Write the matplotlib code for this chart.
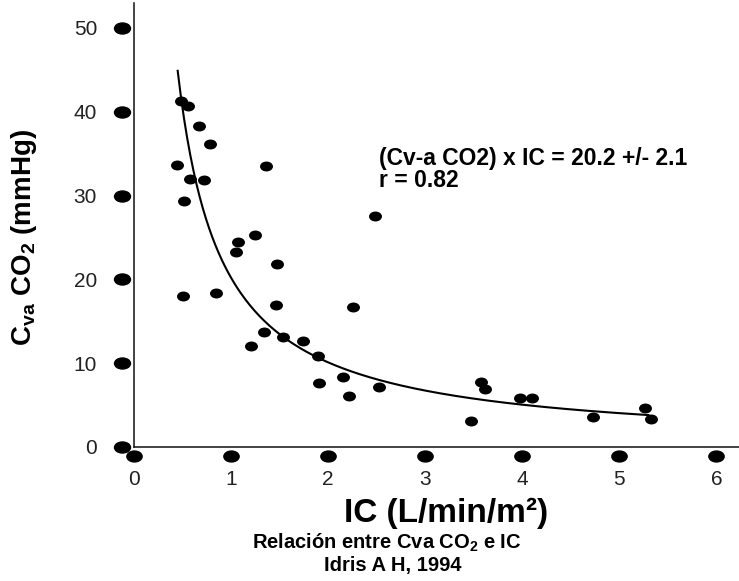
import numpy as np
import matplotlib
matplotlib.use('Agg')
import matplotlib.pyplot as plt
from matplotlib.path import Path
from matplotlib.transforms import blended_transform_factory, ScaledTranslation

plt.rcParams['font.family'] = ['Liberation Sans', 'DejaVu Sans']
plt.rcParams['mathtext.fontset'] = 'custom'
plt.rcParams['mathtext.rm'] = 'Liberation Sans:bold'
plt.rcParams['mathtext.it'] = 'Liberation Sans:bold'
plt.rcParams['mathtext.bf'] = 'Liberation Sans:bold'

# datos (IC en L/min/m2, Cva CO2 en mmHg)
ic = [0.48, 0.56, 0.67, 0.78, 0.44, 1.36, 0.58, 0.72, 0.52, 2.48,
      1.25, 1.07, 1.05, 1.47, 0.50, 0.84, 1.46, 2.26, 1.34, 1.54,
      1.74, 1.21, 1.90, 1.91, 2.15, 2.22, 2.52, 3.57, 3.62, 3.47,
      3.98, 4.10, 4.73, 5.26, 5.33]
cva = [41.3, 40.7, 38.3, 36.2, 33.7, 33.5, 32.0, 31.9, 29.3, 27.6,
       25.3, 24.5, 23.3, 21.8, 18.0, 18.4, 17.0, 16.7, 13.7, 13.1,
       12.6, 12.1, 10.9, 7.6, 8.3, 6.1, 7.1, 7.7, 6.9, 3.1,
       5.9, 5.9, 3.6, 4.6, 3.3]

# curva de ajuste: (Cv-a CO2) x IC = 20.2
k_ajuste = 20.2
ic_curva_min = 0.45
ic_curva_max = 5.3

xticks = [0, 1, 2, 3, 4, 5, 6]
yticks = [0, 10, 20, 30, 40, 50]


def elipse(aspecto):
    c = Path.unit_circle()
    return Path(c.vertices * [aspecto, 1.0], c.codes)


fig = plt.figure(figsize=(7.39, 5.81), dpi=100)
ax = fig.add_axes([134/739, 1-447/581, 1-134/739, 444/581])
ax.set_xlim(0.041, 6.233)
ax.set_ylim(0, 52.98)

# curva
xc = np.linspace(ic_curva_min, ic_curva_max, 300)
ax.plot(xc, k_ajuste / xc, color='black', lw=1.5)

# puntos
ax.plot(ic, cva, ls='none', marker=elipse(1.35), ms=8.3, color='black')

# ejes
for s in ['top', 'right']:
    ax.spines[s].set_visible(False)
for s in ['left', 'bottom']:
    ax.spines[s].set_linewidth(1.1)
    ax.spines[s].set_color('#111111')

ax.set_xticks(xticks)
ax.set_yticks(yticks)
ax.tick_params(length=0, labelsize=15, colors='#222222')
ax.tick_params(axis='y', pad=26.6)
ax.tick_params(axis='x', pad=16.5)

# marcas de los ejes como puntos grandes
ytr = blended_transform_factory(ax.transAxes, ax.transData) + \
    ScaledTranslation(-0.12, 0, fig.dpi_scale_trans)
xtr = blended_transform_factory(ax.transData, ax.transAxes) + \
    ScaledTranslation(0, -0.09, fig.dpi_scale_trans)
ax.plot(np.zeros(len(yticks)), yticks, ls='none', marker=elipse(1.45),
        ms=11.5, color='black', transform=ytr, clip_on=False)
ax.plot(xticks, np.zeros(len(xticks)), ls='none', marker=elipse(1.4),
        ms=11.0, color='black', transform=xtr, clip_on=False)

# textos
fig.text(379/739, 1-165/581, '(Cv-a CO2) x IC = 20.2 +/- 2.1',
         fontsize=16.5, fontweight='bold', ha='left', va='baseline')
fig.text(379/739, 1-187/581, 'r = 0.82',
         fontsize=16.5, fontweight='bold', ha='left', va='baseline')

fig.text(24/739, 1-238/581, r'C$_{va}$ CO$_{2}$ (mmHg)', fontsize=20,
         fontweight='bold', rotation=90, ha='center', va='center')
fig.text(446/739, 1-522/581, 'IC (L/min/m²)', fontsize=24,
         fontweight='bold', ha='center', va='baseline')
fig.text(387/739, 1-549/581, r'Relación entre Cva CO$_{2}$ e IC',
         fontsize=14.5, fontweight='bold', ha='center', va='baseline')
fig.text(393/739, 1-571/581, 'Idris A H, 1994',
         fontsize=14.5, fontweight='bold', ha='center', va='baseline')

fig.savefig('out.png', dpi=100)
